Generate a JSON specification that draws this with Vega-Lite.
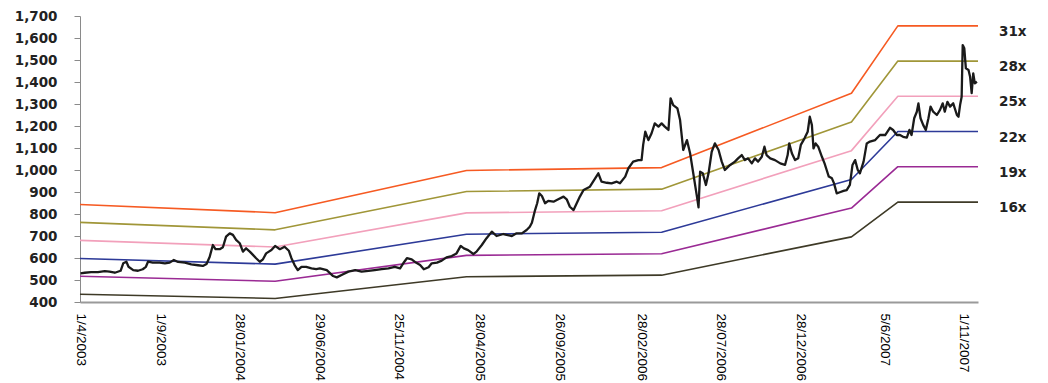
{
  "$schema": "https://vega.github.io/schema/vega-lite/v6.json",
  "width": 898,
  "height": 286,
  "autosize": {"type": "none"},
  "padding": {"left": 80, "top": 16, "right": 70, "bottom": 81},
  "background": "white",
  "config": {"view": {"stroke": null}, "axis": {"grid": false}, "axisY": {"labelOverlap": false}},
  "datasets": {
    "bands": [
      {"date": "2003-04-01", "multiple": "31x", "value": 843},
      {"date": "2004-04-05", "multiple": "31x", "value": 806},
      {"date": "2005-04-03", "multiple": "31x", "value": 998},
      {"date": "2006-04-08", "multiple": "31x", "value": 1011},
      {"date": "2007-04-03", "multiple": "31x", "value": 1349},
      {"date": "2007-06-30", "multiple": "31x", "value": 1655},
      {"date": "2007-11-29", "multiple": "31x", "value": 1655},
      {"date": "2003-04-01", "multiple": "28x", "value": 762},
      {"date": "2004-04-05", "multiple": "28x", "value": 728},
      {"date": "2005-04-03", "multiple": "28x", "value": 902},
      {"date": "2006-04-08", "multiple": "28x", "value": 913},
      {"date": "2007-04-03", "multiple": "28x", "value": 1218},
      {"date": "2007-06-30", "multiple": "28x", "value": 1495},
      {"date": "2007-11-29", "multiple": "28x", "value": 1495},
      {"date": "2003-04-01", "multiple": "25x", "value": 680},
      {"date": "2004-04-05", "multiple": "25x", "value": 650},
      {"date": "2005-04-03", "multiple": "25x", "value": 805},
      {"date": "2006-04-08", "multiple": "25x", "value": 815},
      {"date": "2007-04-03", "multiple": "25x", "value": 1088},
      {"date": "2007-06-30", "multiple": "25x", "value": 1335},
      {"date": "2007-11-29", "multiple": "25x", "value": 1335},
      {"date": "2003-04-01", "multiple": "22x", "value": 598},
      {"date": "2004-04-05", "multiple": "22x", "value": 572},
      {"date": "2005-04-03", "multiple": "22x", "value": 708},
      {"date": "2006-04-08", "multiple": "22x", "value": 717},
      {"date": "2007-04-03", "multiple": "22x", "value": 957},
      {"date": "2007-06-30", "multiple": "22x", "value": 1175},
      {"date": "2007-11-29", "multiple": "22x", "value": 1175},
      {"date": "2003-04-01", "multiple": "19x", "value": 517},
      {"date": "2004-04-05", "multiple": "19x", "value": 494},
      {"date": "2005-04-03", "multiple": "19x", "value": 612},
      {"date": "2006-04-08", "multiple": "19x", "value": 619},
      {"date": "2007-04-03", "multiple": "19x", "value": 827},
      {"date": "2007-06-30", "multiple": "19x", "value": 1015},
      {"date": "2007-11-29", "multiple": "19x", "value": 1015},
      {"date": "2003-04-01", "multiple": "16x", "value": 435},
      {"date": "2004-04-05", "multiple": "16x", "value": 416},
      {"date": "2005-04-03", "multiple": "16x", "value": 515},
      {"date": "2006-04-08", "multiple": "16x", "value": 522},
      {"date": "2007-04-03", "multiple": "16x", "value": 696},
      {"date": "2007-06-30", "multiple": "16x", "value": 854},
      {"date": "2007-11-29", "multiple": "16x", "value": 854}
    ],
    "price": [
      {"date": "2003-04-02", "price": 530}, {"date": "2003-04-10", "price": 533}, {"date": "2003-04-22", "price": 536},
      {"date": "2003-05-05", "price": 536}, {"date": "2003-05-18", "price": 540}, {"date": "2003-05-27", "price": 538},
      {"date": "2003-06-06", "price": 533}, {"date": "2003-06-17", "price": 542}, {"date": "2003-06-22", "price": 576},
      {"date": "2003-06-28", "price": 583}, {"date": "2003-07-02", "price": 560}, {"date": "2003-07-11", "price": 545},
      {"date": "2003-07-20", "price": 542}, {"date": "2003-07-29", "price": 549}, {"date": "2003-08-04", "price": 560},
      {"date": "2003-08-08", "price": 583}, {"date": "2003-08-17", "price": 579}, {"date": "2003-08-30", "price": 579},
      {"date": "2003-09-09", "price": 576}, {"date": "2003-09-18", "price": 579}, {"date": "2003-09-26", "price": 591},
      {"date": "2003-10-04", "price": 582}, {"date": "2003-10-17", "price": 579}, {"date": "2003-10-29", "price": 571},
      {"date": "2003-11-11", "price": 567}, {"date": "2003-11-20", "price": 564}, {"date": "2003-11-27", "price": 573},
      {"date": "2003-12-03", "price": 606}, {"date": "2003-12-09", "price": 659}, {"date": "2003-12-14", "price": 640},
      {"date": "2003-12-22", "price": 640}, {"date": "2003-12-28", "price": 649}, {"date": "2004-01-03", "price": 697},
      {"date": "2004-01-10", "price": 712}, {"date": "2004-01-16", "price": 705}, {"date": "2004-01-22", "price": 682},
      {"date": "2004-01-29", "price": 667}, {"date": "2004-02-04", "price": 629}, {"date": "2004-02-10", "price": 644},
      {"date": "2004-02-17", "price": 629}, {"date": "2004-02-23", "price": 614}, {"date": "2004-02-29", "price": 599},
      {"date": "2004-03-07", "price": 583}, {"date": "2004-03-13", "price": 594}, {"date": "2004-03-19", "price": 621},
      {"date": "2004-03-29", "price": 636}, {"date": "2004-04-05", "price": 655}, {"date": "2004-04-14", "price": 640},
      {"date": "2004-04-23", "price": 651}, {"date": "2004-05-01", "price": 633}, {"date": "2004-05-06", "price": 599},
      {"date": "2004-05-12", "price": 568}, {"date": "2004-05-18", "price": 545}, {"date": "2004-05-25", "price": 560},
      {"date": "2004-06-03", "price": 560}, {"date": "2004-06-13", "price": 553}, {"date": "2004-06-22", "price": 549},
      {"date": "2004-06-29", "price": 553}, {"date": "2004-07-12", "price": 545}, {"date": "2004-07-24", "price": 518},
      {"date": "2004-07-31", "price": 512}, {"date": "2004-08-09", "price": 523}, {"date": "2004-08-22", "price": 538},
      {"date": "2004-09-04", "price": 545}, {"date": "2004-09-16", "price": 538}, {"date": "2004-09-29", "price": 541},
      {"date": "2004-10-11", "price": 545}, {"date": "2004-10-24", "price": 549}, {"date": "2004-11-06", "price": 553},
      {"date": "2004-11-18", "price": 560}, {"date": "2004-11-28", "price": 553}, {"date": "2004-12-04", "price": 576},
      {"date": "2004-12-11", "price": 599}, {"date": "2004-12-20", "price": 594}, {"date": "2004-12-28", "price": 579},
      {"date": "2005-01-05", "price": 568}, {"date": "2005-01-12", "price": 549}, {"date": "2005-01-21", "price": 558},
      {"date": "2005-01-27", "price": 576}, {"date": "2005-02-06", "price": 579}, {"date": "2005-02-15", "price": 588},
      {"date": "2005-02-24", "price": 603}, {"date": "2005-03-06", "price": 609}, {"date": "2005-03-15", "price": 621},
      {"date": "2005-03-23", "price": 655}, {"date": "2005-03-29", "price": 644}, {"date": "2005-04-06", "price": 636},
      {"date": "2005-04-16", "price": 618}, {"date": "2005-04-22", "price": 629}, {"date": "2005-05-02", "price": 659},
      {"date": "2005-05-11", "price": 690}, {"date": "2005-05-21", "price": 720}, {"date": "2005-05-30", "price": 700},
      {"date": "2005-06-12", "price": 709}, {"date": "2005-06-18", "price": 705}, {"date": "2005-06-28", "price": 700},
      {"date": "2005-07-07", "price": 712}, {"date": "2005-07-17", "price": 712}, {"date": "2005-07-26", "price": 727},
      {"date": "2005-08-01", "price": 742}, {"date": "2005-08-05", "price": 760}, {"date": "2005-08-11", "price": 818},
      {"date": "2005-08-15", "price": 849}, {"date": "2005-08-19", "price": 894}, {"date": "2005-08-24", "price": 882},
      {"date": "2005-08-30", "price": 849}, {"date": "2005-09-05", "price": 860}, {"date": "2005-09-15", "price": 856},
      {"date": "2005-09-24", "price": 867}, {"date": "2005-10-04", "price": 879}, {"date": "2005-10-10", "price": 867},
      {"date": "2005-10-16", "price": 833}, {"date": "2005-10-23", "price": 818}, {"date": "2005-10-29", "price": 849},
      {"date": "2005-11-04", "price": 879}, {"date": "2005-11-11", "price": 909}, {"date": "2005-11-23", "price": 924},
      {"date": "2005-12-09", "price": 985}, {"date": "2005-12-15", "price": 947}, {"date": "2005-12-25", "price": 942},
      {"date": "2006-01-03", "price": 939}, {"date": "2006-01-13", "price": 947}, {"date": "2006-01-19", "price": 940},
      {"date": "2006-01-29", "price": 970}, {"date": "2006-02-04", "price": 1008}, {"date": "2006-02-13", "price": 1038},
      {"date": "2006-02-23", "price": 1045}, {"date": "2006-03-01", "price": 1045}, {"date": "2006-03-04", "price": 1114},
      {"date": "2006-03-08", "price": 1174}, {"date": "2006-03-14", "price": 1136}, {"date": "2006-03-20", "price": 1167},
      {"date": "2006-03-26", "price": 1212}, {"date": "2006-04-02", "price": 1197}, {"date": "2006-04-08", "price": 1212},
      {"date": "2006-04-14", "price": 1197}, {"date": "2006-04-21", "price": 1182}, {"date": "2006-04-25", "price": 1326},
      {"date": "2006-04-30", "price": 1295}, {"date": "2006-05-08", "price": 1280}, {"date": "2006-05-13", "price": 1227},
      {"date": "2006-05-19", "price": 1091}, {"date": "2006-05-26", "price": 1136}, {"date": "2006-06-01", "price": 1076},
      {"date": "2006-06-07", "price": 985}, {"date": "2006-06-14", "price": 879}, {"date": "2006-06-17", "price": 830},
      {"date": "2006-06-20", "price": 992}, {"date": "2006-06-25", "price": 985}, {"date": "2006-07-01", "price": 932},
      {"date": "2006-07-06", "price": 985}, {"date": "2006-07-12", "price": 1083}, {"date": "2006-07-18", "price": 1121},
      {"date": "2006-07-25", "price": 1091}, {"date": "2006-07-31", "price": 1038}, {"date": "2006-08-06", "price": 1000},
      {"date": "2006-08-16", "price": 1023}, {"date": "2006-08-25", "price": 1038}, {"date": "2006-08-31", "price": 1053},
      {"date": "2006-09-07", "price": 1068}, {"date": "2006-09-13", "price": 1045}, {"date": "2006-09-19", "price": 1053},
      {"date": "2006-09-26", "price": 1030}, {"date": "2006-10-02", "price": 1053}, {"date": "2006-10-08", "price": 1038},
      {"date": "2006-10-15", "price": 1060}, {"date": "2006-10-20", "price": 1106}, {"date": "2006-10-24", "price": 1068},
      {"date": "2006-10-31", "price": 1053}, {"date": "2006-11-09", "price": 1045}, {"date": "2006-11-19", "price": 1030},
      {"date": "2006-11-28", "price": 1023}, {"date": "2006-12-03", "price": 1068}, {"date": "2006-12-06", "price": 1121},
      {"date": "2006-12-11", "price": 1076}, {"date": "2006-12-17", "price": 1045}, {"date": "2006-12-23", "price": 1053},
      {"date": "2006-12-28", "price": 1114}, {"date": "2007-01-04", "price": 1144}, {"date": "2007-01-10", "price": 1174},
      {"date": "2007-01-14", "price": 1242}, {"date": "2007-01-18", "price": 1204}, {"date": "2007-01-21", "price": 1098},
      {"date": "2007-01-25", "price": 1121}, {"date": "2007-01-30", "price": 1106}, {"date": "2007-02-06", "price": 1060},
      {"date": "2007-02-11", "price": 1030}, {"date": "2007-02-15", "price": 1000}, {"date": "2007-02-19", "price": 970},
      {"date": "2007-02-25", "price": 962}, {"date": "2007-03-01", "price": 939}, {"date": "2007-03-06", "price": 894},
      {"date": "2007-03-12", "price": 899}, {"date": "2007-03-19", "price": 905}, {"date": "2007-03-25", "price": 909},
      {"date": "2007-03-31", "price": 932}, {"date": "2007-04-05", "price": 1023}, {"date": "2007-04-10", "price": 1045},
      {"date": "2007-04-15", "price": 1000}, {"date": "2007-04-19", "price": 985}, {"date": "2007-04-26", "price": 1038},
      {"date": "2007-05-02", "price": 1121}, {"date": "2007-05-08", "price": 1129}, {"date": "2007-05-18", "price": 1136},
      {"date": "2007-05-27", "price": 1159}, {"date": "2007-06-06", "price": 1159}, {"date": "2007-06-15", "price": 1192},
      {"date": "2007-06-21", "price": 1182}, {"date": "2007-06-28", "price": 1159}, {"date": "2007-07-04", "price": 1159},
      {"date": "2007-07-10", "price": 1151}, {"date": "2007-07-17", "price": 1147}, {"date": "2007-07-22", "price": 1182},
      {"date": "2007-07-26", "price": 1159}, {"date": "2007-07-31", "price": 1235}, {"date": "2007-08-05", "price": 1265},
      {"date": "2007-08-08", "price": 1303}, {"date": "2007-08-12", "price": 1235}, {"date": "2007-08-17", "price": 1205},
      {"date": "2007-08-22", "price": 1182}, {"date": "2007-08-27", "price": 1235}, {"date": "2007-08-31", "price": 1288},
      {"date": "2007-09-05", "price": 1265}, {"date": "2007-09-12", "price": 1250}, {"date": "2007-09-18", "price": 1273},
      {"date": "2007-09-23", "price": 1303}, {"date": "2007-09-27", "price": 1265}, {"date": "2007-10-02", "price": 1310},
      {"date": "2007-10-07", "price": 1288}, {"date": "2007-10-13", "price": 1303}, {"date": "2007-10-20", "price": 1250},
      {"date": "2007-10-23", "price": 1242}, {"date": "2007-10-26", "price": 1295}, {"date": "2007-10-29", "price": 1333},
      {"date": "2007-10-31", "price": 1568}, {"date": "2007-11-03", "price": 1553}, {"date": "2007-11-06", "price": 1462},
      {"date": "2007-11-11", "price": 1455}, {"date": "2007-11-14", "price": 1424}, {"date": "2007-11-17", "price": 1349},
      {"date": "2007-11-20", "price": 1439}, {"date": "2007-11-23", "price": 1394}, {"date": "2007-11-27", "price": 1401}
    ]
  },
  "layer": [
    {
      "data": {"name": "bands"},
      "mark": {"type": "line", "strokeJoin": "round"},
      "encoding": {
        "x": {
          "field": "date",
          "type": "temporal",
          "scale": {
            "type": "utc",
            "domain": [
              {"year": 2003, "month": 4, "date": 1, "utc": true},
              {"year": 2007, "month": 11, "date": 29, "utc": true}
            ]
          },
          "axis": {
            "title": null,
            "values": [
              {"year": 2003, "month": 4, "date": 1, "utc": true},
              {"year": 2003, "month": 9, "date": 1, "utc": true},
              {"year": 2004, "month": 1, "date": 28, "utc": true},
              {"year": 2004, "month": 6, "date": 29, "utc": true},
              {"year": 2004, "month": 11, "date": 25, "utc": true},
              {"year": 2005, "month": 4, "date": 28, "utc": true},
              {"year": 2005, "month": 9, "date": 26, "utc": true},
              {"year": 2006, "month": 2, "date": 28, "utc": true},
              {"year": 2006, "month": 7, "date": 28, "utc": true},
              {"year": 2006, "month": 12, "date": 28, "utc": true},
              {"year": 2007, "month": 6, "date": 5, "utc": true},
              {"year": 2007, "month": 11, "date": 1, "utc": true}
            ],
            "labelExpr": "utcdate(datum.value) < 10 ? utcFormat(datum.value, '%-d/%-m/%Y') : utcFormat(datum.value, '%d/%m/%Y')",
            "labelAngle": 90,
            "labelFont": "Liberation Sans",
            "labelFontSize": 13.5,
            "labelColor": "#000000",
            "labelPadding": 11,
            "labelOverlap": false,
            "labelFlush": false,
            "ticks": false,
            "domainColor": "#9a9a9a",
            "domainWidth": 2
          }
        },
        "y": {
          "field": "value",
          "type": "quantitative",
          "scale": {"domain": [400, 1700], "nice": false, "zero": false},
          "axis": {
            "title": null,
            "values": [400, 500, 600, 700, 800, 900, 1000, 1100, 1200, 1300, 1400, 1500, 1600, 1700],
            "format": ",.0f",
            "labelFont": "DejaVu Sans",
            "labelFontWeight": "bold",
            "labelFontSize": 13.5,
            "labelColor": "#222222",
            "labelPadding": 17,
            "labelOverlap": false,
            "labelFlush": false,
            "tickSize": 6,
            "tickColor": "#8a8a8a",
            "domainColor": "#8a8a8a"
          }
        },
        "color": {
          "field": "multiple",
          "type": "nominal",
          "scale": {
            "domain": ["31x", "28x", "25x", "22x", "19x", "16x"],
            "range": ["#f65a22", "#a09638", "#f2a0bb", "#2d3a98", "#9a2a94", "#3e3a27"]
          },
          "legend": null
        },
        "strokeWidth": {
          "field": "multiple",
          "type": "nominal",
          "scale": {
            "domain": ["31x", "28x", "25x", "22x", "19x", "16x"],
            "range": [1.6, 1.6, 1.6, 1.6, 1.6, 2.6]
          },
          "legend": null
        }
      }
    },
    {
      "data": {"name": "price"},
      "mark": {"type": "line", "color": "#1a1a1a", "strokeWidth": 2.3, "strokeJoin": "round"},
      "encoding": {
        "x": {
          "field": "date",
          "type": "temporal",
          "scale": {
            "type": "utc",
            "domain": [
              {"year": 2003, "month": 4, "date": 1, "utc": true},
              {"year": 2007, "month": 11, "date": 29, "utc": true}
            ]
          },
          "axis": {
            "title": null,
            "values": [
              {"year": 2003, "month": 4, "date": 1, "utc": true},
              {"year": 2003, "month": 9, "date": 1, "utc": true},
              {"year": 2004, "month": 1, "date": 28, "utc": true},
              {"year": 2004, "month": 6, "date": 29, "utc": true},
              {"year": 2004, "month": 11, "date": 25, "utc": true},
              {"year": 2005, "month": 4, "date": 28, "utc": true},
              {"year": 2005, "month": 9, "date": 26, "utc": true},
              {"year": 2006, "month": 2, "date": 28, "utc": true},
              {"year": 2006, "month": 7, "date": 28, "utc": true},
              {"year": 2006, "month": 12, "date": 28, "utc": true},
              {"year": 2007, "month": 6, "date": 5, "utc": true},
              {"year": 2007, "month": 11, "date": 1, "utc": true}
            ],
            "labelExpr": "utcdate(datum.value) < 10 ? utcFormat(datum.value, '%-d/%-m/%Y') : utcFormat(datum.value, '%d/%m/%Y')",
            "labelAngle": 90,
            "labelFont": "Liberation Sans",
            "labelFontSize": 13.5,
            "labelColor": "#000000",
            "labelPadding": 11,
            "labelOverlap": false,
            "labelFlush": false,
            "ticks": false,
            "domainColor": "#9a9a9a",
            "domainWidth": 2
          }
        },
        "y": {
          "field": "price",
          "type": "quantitative",
          "scale": {"domain": [400, 1700], "nice": false, "zero": false},
          "axis": {
            "title": null,
            "values": [400, 500, 600, 700, 800, 900, 1000, 1100, 1200, 1300, 1400, 1500, 1600, 1700],
            "format": ",.0f",
            "labelFont": "DejaVu Sans",
            "labelFontWeight": "bold",
            "labelFontSize": 13.5,
            "labelColor": "#222222",
            "labelPadding": 17,
            "labelOverlap": false,
            "labelFlush": false,
            "tickSize": 6,
            "tickColor": "#8a8a8a",
            "domainColor": "#8a8a8a"
          }
        }
      }
    },
    {
      "data": {"name": "bands"},
      "mark": {
        "type": "text",
        "align": "left",
        "baseline": "middle",
        "dx": 21,
        "dy": 6,
        "font": "DejaVu Sans",
        "fontWeight": "bold",
        "fontSize": 13.5,
        "color": "#222222"
      },
      "encoding": {
        "x": {
          "aggregate": "max",
          "field": "date",
          "type": "temporal",
          "scale": {
            "type": "utc",
            "domain": [
              {"year": 2003, "month": 4, "date": 1, "utc": true},
              {"year": 2007, "month": 11, "date": 29, "utc": true}
            ]
          },
          "axis": {
            "title": null,
            "values": [
              {"year": 2003, "month": 4, "date": 1, "utc": true},
              {"year": 2003, "month": 9, "date": 1, "utc": true},
              {"year": 2004, "month": 1, "date": 28, "utc": true},
              {"year": 2004, "month": 6, "date": 29, "utc": true},
              {"year": 2004, "month": 11, "date": 25, "utc": true},
              {"year": 2005, "month": 4, "date": 28, "utc": true},
              {"year": 2005, "month": 9, "date": 26, "utc": true},
              {"year": 2006, "month": 2, "date": 28, "utc": true},
              {"year": 2006, "month": 7, "date": 28, "utc": true},
              {"year": 2006, "month": 12, "date": 28, "utc": true},
              {"year": 2007, "month": 6, "date": 5, "utc": true},
              {"year": 2007, "month": 11, "date": 1, "utc": true}
            ],
            "labelExpr": "utcdate(datum.value) < 10 ? utcFormat(datum.value, '%-d/%-m/%Y') : utcFormat(datum.value, '%d/%m/%Y')",
            "labelAngle": 90,
            "labelFont": "Liberation Sans",
            "labelFontSize": 13.5,
            "labelColor": "#000000",
            "labelPadding": 11,
            "labelOverlap": false,
            "labelFlush": false,
            "ticks": false,
            "domainColor": "#9a9a9a",
            "domainWidth": 2
          }
        },
        "y": {
          "aggregate": "max",
          "field": "value",
          "type": "quantitative",
          "scale": {"domain": [400, 1700], "nice": false, "zero": false},
          "axis": {
            "title": null,
            "values": [400, 500, 600, 700, 800, 900, 1000, 1100, 1200, 1300, 1400, 1500, 1600, 1700],
            "format": ",.0f",
            "labelFont": "DejaVu Sans",
            "labelFontWeight": "bold",
            "labelFontSize": 13.5,
            "labelColor": "#222222",
            "labelPadding": 17,
            "labelOverlap": false,
            "labelFlush": false,
            "tickSize": 6,
            "tickColor": "#8a8a8a",
            "domainColor": "#8a8a8a"
          }
        },
        "text": {"field": "multiple", "type": "nominal"}
      }
    }
  ]
}
